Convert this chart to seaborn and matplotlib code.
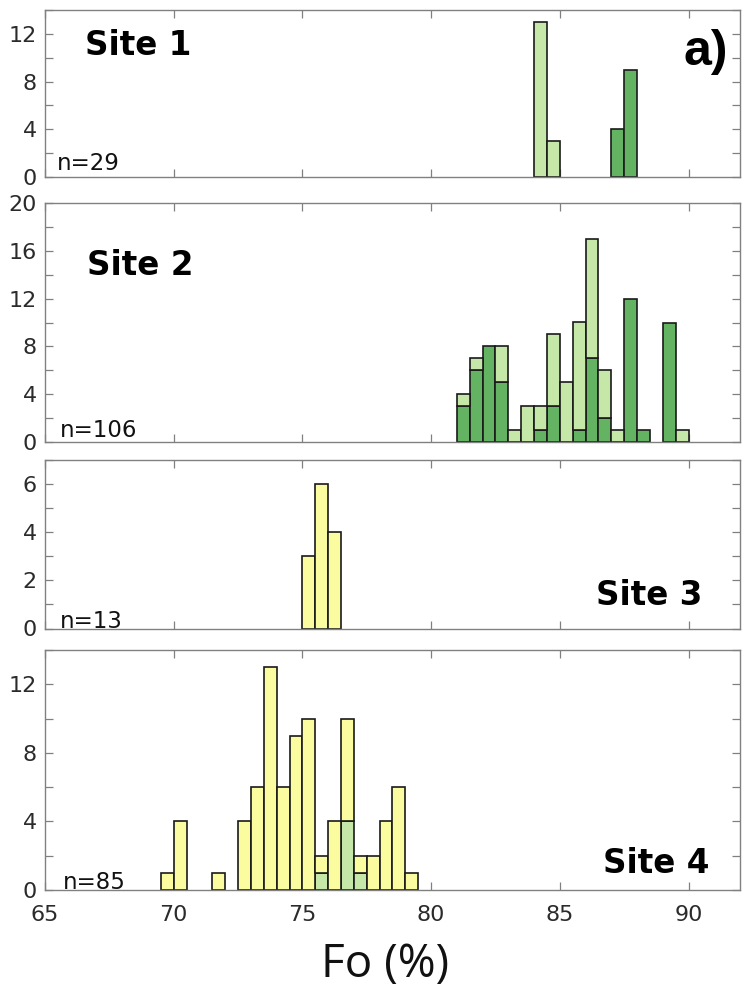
import numpy as np
import pandas as pd
import matplotlib
matplotlib.use("Agg")
import matplotlib.pyplot as plt
from matplotlib.ticker import MultipleLocator
import seaborn as sns

sns.set_theme(style="white")
plt.rcParams["font.family"] = ["DejaVu Sans"]

BIN = 0.5  # histogram bin width, Fo %

# Site 1: two populations, no overlap
site1_light_left = [84.0, 84.5]
site1_light_count = [13, 3]
site1_dark_left = [87.0, 87.5]
site1_dark_count = [4, 9]

# Site 2: stacked, dark population at the bottom
site2_left = [81.0, 81.5, 82.0, 82.5, 83.0, 83.5, 84.0, 84.5, 85.0,
              85.5, 86.0, 86.5, 87.0, 87.5, 88.0, 88.5, 89.0, 89.5]
site2_dark = [3, 6, 8, 5, 0, 0, 1, 3, 0, 1, 7, 2, 0, 12, 1, 0, 10, 0]
site2_light = [1, 1, 0, 3, 1, 3, 2, 6, 5, 9, 10, 4, 1, 0, 0, 0, 0, 1]

# Site 3
site3_left = [75.0, 75.5, 76.0]
site3_count = [3, 6, 4]

# Site 4: stacked, green population at the bottom
site4_left = [69.5, 70.0, 70.5, 71.0, 71.5, 72.0, 72.5, 73.0, 73.5, 74.0,
              74.5, 75.0, 75.5, 76.0, 76.5, 77.0, 77.5, 78.0, 78.5, 79.0]
site4_yellow = [1, 4, 0, 0, 1, 0, 4, 6, 13, 6, 9, 10, 1, 4, 6, 1, 2, 4, 6, 1]
site4_green = [0, 0, 0, 0, 0, 0, 0, 0, 0, 0, 0, 0, 1, 0, 4, 1, 0, 0, 0, 0]

site_names = ["Site 1", "Site 2", "Site 3", "Site 4"]
n_labels = ["n=29", "n=106", "n=13", "n=85"]
xticks = [65, 70, 75, 80, 85, 90]

LIGHT_GREEN = "#c5e8a8"
DARK_GREEN = "#63b363"
YELLOW = "#fbfba0"
EDGE = "#1a1a1a"
FRAME = "#808080"
TICKTXT = "#2b2b2b"


def long_table(groups):
    rows = []
    for name, lefts, counts in groups:
        for left, c in zip(lefts, counts):
            rows.append({"fo": left + BIN / 2, "count": c, "group": name})
    return pd.DataFrame(rows)


fig = plt.figure(figsize=(7.42, 9.93), dpi=100)

W, H = 742.0, 993.0
left_px, right_px = 45, 740
panels_px = [(10, 177), (203, 442), (460, 628.5), (650, 890)]
axes = []
for top, bot in panels_px:
    ax = fig.add_axes([left_px / W, 1 - bot / H, (right_px - left_px) / W, (bot - top) / H])
    axes.append(ax)

hist_kw = dict(x="fo", weights="count", hue="group", element="bars",
               binwidth=BIN, edgecolor=EDGE, linewidth=1.2, alpha=1,
               legend=False)

# Site 1
d1 = long_table([("light", site1_light_left, site1_light_count),
                 ("dark", site1_dark_left, site1_dark_count)])
sns.histplot(data=d1, ax=axes[0], binrange=(84.0, 88.0), multiple="layer",
             palette={"light": LIGHT_GREEN, "dark": DARK_GREEN},
             hue_order=["light", "dark"], **hist_kw)

# Site 2
d2 = long_table([("light", site2_left, site2_light),
                 ("dark", site2_left, site2_dark)])
sns.histplot(data=d2, ax=axes[1], binrange=(81.0, 90.0), multiple="stack",
             palette={"light": LIGHT_GREEN, "dark": DARK_GREEN},
             hue_order=["light", "dark"], **hist_kw)

# Site 3
d3 = long_table([("yellow", site3_left, site3_count)])
sns.histplot(data=d3, ax=axes[2], binrange=(75.0, 76.5), multiple="layer",
             palette={"yellow": YELLOW}, **hist_kw)

# Site 4
d4 = long_table([("yellow", site4_left, site4_yellow),
                 ("green", site4_left, site4_green)])
sns.histplot(data=d4, ax=axes[3], binrange=(69.5, 79.5), multiple="stack",
             palette={"yellow": YELLOW, "green": LIGHT_GREEN},
             hue_order=["yellow", "green"], **hist_kw)

ylims = [14, 20, 7, 14]
ymajor = [4, 4, 2, 4]
for i, ax in enumerate(axes):
    for p in ax.patches:
        if p.get_height() == 0:
            p.set_visible(False)
    ax.set_xlim(65, 92)
    ax.set_ylim(0, ylims[i])
    ax.set_xticks(xticks)
    ax.yaxis.set_major_locator(MultipleLocator(ymajor[i]))
    ax.yaxis.set_minor_locator(MultipleLocator(ymajor[i] / 2))
    ax.tick_params(which="both", direction="in", top=True, right=True,
                   bottom=True, left=True, length=6, width=0.9, color=FRAME,
                   labelsize=16, labelcolor=TICKTXT)
    ax.tick_params(axis="y", pad=6)
    ax.tick_params(axis="x", pad=11)
    for s in ax.spines.values():
        s.set_visible(True)
        s.set_color(FRAME)
        s.set_linewidth(1.0)
    ax.set_ylabel("")
    ax.set_xlabel("")
    if i < 3:
        ax.tick_params(axis="x", labelbottom=False)

# Site names and sample counts
site_pos = [(0.0576, 0.730), (0.0604, 0.699), (0.793, 0.139), (0.803, 0.071)]
n_pos = [(0.017, 0.040), (0.021, 0.021), (0.021, 0.005), (0.026, 0.006)]
for ax, name, (sx, sy), nl, (nx, ny) in zip(axes, site_names, site_pos, n_labels, n_pos):
    ax.text(sx, sy, name, transform=ax.transAxes, fontsize=23.5,
            fontweight="bold", color="black", ha="left", va="baseline")
    ax.text(nx, ny, nl, transform=ax.transAxes, fontsize=16.5,
            color="#111111", ha="left", va="baseline")

axes[0].text(0.918, 0.671, "a)", transform=axes[0].transAxes,
             fontsize=36, fontweight="bold", family=["Liberation Sans", "DejaVu Sans"],
             ha="left", va="baseline", color="black")

axes[3].set_xlabel("Fo (%)", fontsize=33, family=["Open Sans", "DejaVu Sans"],
                   color="#111111")
axes[3].xaxis.set_label_coords(0.489, -0.215)

fig.savefig("out.png", dpi=100, facecolor="white")
